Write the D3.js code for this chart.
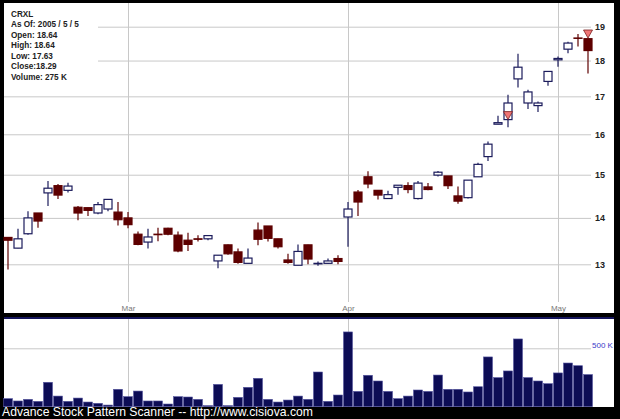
<!DOCTYPE html>
<html><head><meta charset="utf-8">
<script src="https://cdn.jsdelivr.net/npm/d3@7"></script>
<style>body{margin:0;background:#000}svg{display:block}</style>
</head><body>
<script>
const dates = ["02-10","02-11","02-14","02-15","02-16","02-17","02-18","02-22","02-23","02-24","02-25","02-28",
"03-01","03-02","03-03","03-04","03-07","03-08","03-09","03-10","03-11","03-14","03-15","03-16","03-17","03-18","03-21","03-22","03-23","03-24","03-28","03-29","03-30","03-31",
"04-01","04-04","04-05","04-06","04-07","04-08","04-11","04-12","04-13","04-14","04-15","04-18","04-19","04-20","04-21","04-22","04-25","04-26","04-27","04-28","04-29",
"05-02","05-03","05-04","05-05"];
const open  = [13.57,13.34,13.65,14.11,14.57,14.74,14.63,14.24,14.23,14.11,14.20,14.13,14.00,13.64,13.47,13.64,13.77,13.62,13.51,13.54,13.54,13.07,13.41,13.26,13.02,13.73,13.82,13.54,13.09,12.98,13.41,13.01,13.02,13.12,14.02,14.59,14.95,14.63,14.44,14.70,14.74,14.44,14.71,14.99,14.97,14.50,14.46,14.95,15.44,16.26,16.38,17.48,16.82,16.75,17.41,18.02,18.33,18.66,18.64];
const high  = [13.57,13.76,14.15,14.11,14.85,14.78,14.81,14.27,14.23,14.36,14.43,14.36,14.13,13.70,13.76,13.78,13.78,13.70,13.67,13.62,13.61,13.19,13.42,13.33,13.33,13.90,13.82,13.54,13.22,13.42,13.41,13.06,13.12,13.19,14.36,14.64,15.08,14.63,14.62,14.75,14.82,14.85,14.80,15.09,14.97,14.72,14.87,15.29,15.82,16.48,17.04,18.20,17.18,16.86,17.69,18.12,18.55,18.78,18.64];
const low   = [12.89,13.34,13.63,13.78,14.27,14.43,14.58,13.95,14.04,14.08,14.15,13.83,13.77,13.40,13.33,13.49,13.62,13.25,13.28,13.48,13.51,12.92,13.20,13.01,13.02,13.40,13.48,13.33,13.01,12.98,13.00,12.97,13.01,13.00,13.37,14.04,14.68,14.42,14.44,14.53,14.56,14.42,14.63,14.96,14.66,14.32,14.44,14.95,15.33,16.26,16.18,17.24,16.66,16.58,17.29,17.82,18.21,18.41,17.63];
const close = [13.51,13.54,14.00,13.93,14.68,14.52,14.73,14.11,14.17,14.30,14.42,13.96,13.85,13.42,13.58,13.63,13.64,13.28,13.42,13.53,13.61,13.19,13.22,13.04,13.13,13.53,13.55,13.37,13.04,13.27,13.11,13.02,13.07,13.06,14.20,14.36,14.78,14.52,14.53,14.75,14.65,14.80,14.65,15.06,14.74,14.38,14.87,15.25,15.75,16.30,16.82,17.81,17.12,16.82,17.69,18.06,18.51,18.65,18.29];
const volumeK = [69,49,63,46,209,91,46,74,40,29,14,149,86,134,49,49,23,86,83,63,9,191,9,80,166,243,63,40,57,91,63,297,46,100,640,131,269,220,131,69,91,143,131,271,149,149,126,171,426,249,306,580,249,220,197,289,374,351,275];
const markerDates = ["04-25","05-05"];
const markerPrices = [16.38,18.66];
const priceTicks = [13,14,15,16,17,18,19];
const monthTicks = ["03-01","04-01","05-02"];
const monthLabels = ["Mar","Apr","May"];
const volTicks = [500];
const infoLines = ["CRXL","As Of: 2005 / 5 / 5","Open: 18.64","High: 18.64","Low: 17.63","Close:18.29","Volume: 275 K"];
const footer = "Advance Stock Pattern Scanner -- http://www.cisiova.com";

const W = 620, H = 419;
const svg = d3.select("body").append("svg").attr("width", W).attr("height", H);
svg.append("rect").attr("width", W).attr("height", H).attr("fill", "#000");

const panelL = 4, panelR = 614;
svg.append("rect").attr("x", panelL).attr("y", 3).attr("width", panelR - panelL).attr("height", 310).attr("fill", "#fff");
svg.append("rect").attr("x", panelL).attr("y", 319).attr("width", panelR - panelL).attr("height", 88).attr("fill", "#fff");
svg.append("line").attr("x1", panelL).attr("x2", panelR).attr("y1", 318).attr("y2", 318).attr("stroke", "#2a2ab8").attr("stroke-width", 1.2);

const x = d3.scalePoint().domain(dates).range([8, 588]);
const y = d3.scaleLog().domain([13, 19]).range([264.3, 26.7]);
const yv = d3.scaleLinear().domain([0, 500]).range([406.7, 348.3]);
const gridCol = "#c8c8c8";
const labelFont = "Liberation Sans, Arial, sans-serif";

const yAxis = svg.append("g").attr("transform", "translate(591,0)")
  .call(d3.axisRight(y).tickValues(priceTicks).tickFormat(d3.format("d")).tickSize(-(591 - panelL)).tickPadding(4));
yAxis.select(".domain").remove();
yAxis.selectAll("line").attr("stroke", gridCol);
yAxis.selectAll("text").attr("fill", "#222").attr("font-family", labelFont).attr("font-weight", "bold").attr("font-size", 9);

const xAxis = svg.append("g").attr("transform", "translate(0,302)")
  .call(d3.axisBottom(x).tickValues(monthTicks).tickFormat((d, i) => monthLabels[i]).tickSize(-299).tickPadding(3));
xAxis.select(".domain").remove();
xAxis.selectAll("line").attr("stroke", gridCol);
xAxis.selectAll("text").attr("fill", "#777").attr("font-family", labelFont).attr("font-size", 8);

svg.append("rect").attr("x", panelL).attr("y", 3).attr("width", 94).attr("height", 83).attr("fill", "#fff");
svg.append("g").selectAll("text").data(infoLines).join("text")
  .attr("x", 11).attr("y", (d, i) => 17 + i * 10.45)
  .attr("font-family", labelFont).attr("font-weight", "bold").attr("font-size", 8.2).attr("fill", "#222")
  .text(d => d);

const data = dates.map((d, i) => ({d, o: open[i], h: high[i], l: low[i], c: close[i]}));
const up = "#1c1c5c", down = "#5e0000";
const g = svg.append("g");
const bw = 8;
g.selectAll("line.wick").data(data).join("line").attr("class", "wick")
  .attr("x1", d => x(d.d)).attr("x2", d => x(d.d))
  .attr("y1", d => y(d.h)).attr("y2", d => y(d.l))
  .attr("stroke", d => d.c >= d.o ? up : down).attr("stroke-width", 1.2);
g.selectAll("rect.body").data(data).join("rect").attr("class", "body")
  .attr("x", d => x(d.d) - bw / 2)
  .attr("y", d => y(Math.max(d.o, d.c)))
  .attr("width", bw)
  .attr("height", d => Math.max(0.01, Math.abs(y(d.o) - y(d.c))))
  .attr("fill", d => d.c >= d.o ? "#fff" : down)
  .attr("stroke", d => d.c >= d.o ? up : down).attr("stroke-width", 1.2);

const mk = markerDates.map((d, i) => ({d, p: markerPrices[i]}));
g.selectAll("path.mk").data(mk).join("path").attr("class", "mk")
  .attr("d", d => { const cx = x(d.d), cy = y(d.p); return `M${cx - 4.5},${cy - 8}L${cx + 4.5},${cy - 8}L${cx},${cy}Z`; })
  .attr("fill", "#f07575").attr("stroke", "#7a2020").attr("stroke-width", 0.8);

const vAxis = svg.append("g").attr("transform", "translate(591,0)")
  .call(d3.axisRight(yv).tickValues(volTicks).tickFormat(d => d + " K").tickSize(-(591 - panelL)).tickPadding(1));
vAxis.select(".domain").remove();
vAxis.selectAll("line").attr("stroke", gridCol);
vAxis.selectAll("text").attr("fill", "#3a3ac8").attr("font-family", labelFont).attr("font-size", 8).attr("dy", "-0.1em");
const vx = svg.append("g").attr("transform", "translate(0,407)")
  .call(d3.axisBottom(x).tickValues(monthTicks).tickFormat("").tickSize(-88));
vx.select(".domain").remove();
vx.selectAll("line").attr("stroke", gridCol);

svg.append("g").selectAll("rect").data(volumeK).join("rect")
  .attr("x", (d, i) => x(dates[i]) - 4.5).attr("width", 9)
  .attr("y", d => yv(d)).attr("height", d => yv(0) - yv(d))
  .attr("fill", "#0c0c55").attr("stroke", "#5656a0").attr("stroke-width", 0.6);

svg.append("text").attr("x", 2).attr("y", 416.3).attr("fill", "#fff")
  .attr("font-family", labelFont).attr("font-size", 12.2).text(footer);
</script>
</body></html>
